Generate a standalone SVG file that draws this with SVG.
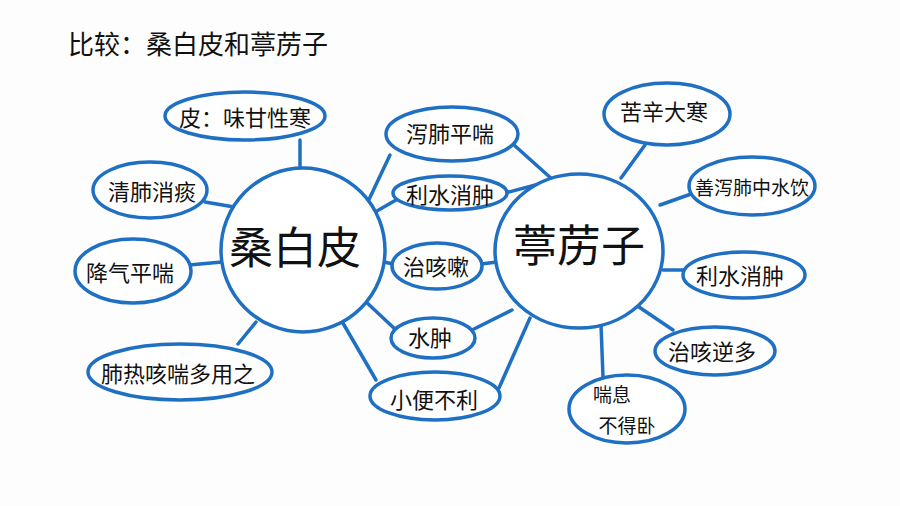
<svg xmlns="http://www.w3.org/2000/svg" width="900" height="506" viewBox="0 0 900 506">
<style>
.n{fill:#fff;stroke:#1f6fc2;stroke-width:3.5}
.c{fill:none;stroke:#1f6fc2;stroke-width:3.5;stroke-linecap:round}
text{font-family:"Noto Sans CJK SC","Noto Sans CJK JP",sans-serif;fill:#111;text-anchor:middle;dominant-baseline:central}
.s{font-size:22px}
.x{font-size:19px}
.b{font-size:44px}
.t{font-size:26px;text-anchor:start}
</style>
<rect width="900" height="506" fill="#fdfdfd"/>
<text class="t" x="68" y="42">比较：桑白皮和葶苈子</text>
<g id="connectors">
<line class="c" x1="300" y1="140" x2="300" y2="180"/>
<line class="c" x1="205" y1="202" x2="240" y2="208"/>
<line class="c" x1="189" y1="265" x2="222" y2="262"/>
<line class="c" x1="238" y1="344" x2="256" y2="322"/>
<line class="c" x1="390" y1="155" x2="364" y2="210"/>
<line class="c" x1="514" y1="145" x2="553" y2="180"/>
<line class="c" x1="396" y1="200" x2="370" y2="215"/>
<line class="c" x1="505" y1="193" x2="543" y2="183"/>
<line class="c" x1="393" y1="264" x2="384" y2="262"/>
<line class="c" x1="481" y1="264" x2="497" y2="262"/>
<line class="c" x1="396" y1="330" x2="364" y2="300"/>
<line class="c" x1="472" y1="330" x2="512" y2="310"/>
<line class="c" x1="376" y1="380" x2="340" y2="318"/>
<line class="c" x1="499" y1="388" x2="530" y2="318"/>
<line class="c" x1="645" y1="145" x2="621" y2="178"/>
<line class="c" x1="691" y1="194" x2="660" y2="205"/>
<line class="c" x1="684" y1="270" x2="663" y2="270"/>
<line class="c" x1="636" y1="305" x2="673" y2="330"/>
<line class="c" x1="601" y1="325" x2="603" y2="377"/>
</g>
<g id="sangbaipi"><ellipse class="n" cx="303" cy="250" rx="82" ry="82"/><text class="b" x="295" y="245">桑白皮</text></g>
<g id="tinglizi"><ellipse class="n" cx="579" cy="251" rx="84" ry="77"/><text class="b" x="579" y="243">葶苈子</text></g>
<g id="n1"><ellipse class="n" cx="245" cy="116" rx="80" ry="24"/><text class="s" x="245" y="116">皮：味甘性寒</text></g>
<g id="n2"><ellipse class="n" cx="150" cy="190" rx="57" ry="28"/><text class="s" x="152" y="190">清肺消痰</text></g>
<g id="n3"><ellipse class="n" cx="133" cy="271" rx="58" ry="32"/><text class="s" x="130" y="271">降气平喘</text></g>
<g id="n4"><ellipse class="n" cx="180" cy="372" rx="92" ry="28"/><text class="s" x="178" y="372">肺热咳喘多用之</text></g>
<g id="m1"><ellipse class="n" cx="452" cy="134" rx="66" ry="27"/><text class="s" x="450" y="132">泻肺平喘</text></g>
<g id="m2"><ellipse class="n" cx="450" cy="193" rx="57" ry="17"/><text class="s" x="450" y="193">利水消肿</text></g>
<g id="m3"><ellipse class="n" cx="437" cy="266" rx="45" ry="23"/><text class="s" x="436" y="265">治咳嗽</text></g>
<g id="m4"><ellipse class="n" cx="433" cy="338" rx="42" ry="20"/><text class="s" x="430" y="336">水肿</text></g>
<g id="m5"><ellipse class="n" cx="435" cy="396" rx="65" ry="24"/><text class="s" x="434" y="398">小便不利</text></g>
<g id="r1"><ellipse class="n" cx="667" cy="114" rx="63" ry="31"/><text class="s" x="664" y="110">苦辛大寒</text></g>
<g id="r2"><ellipse class="n" cx="752" cy="186" rx="63" ry="29"/><text class="x" x="752" y="186">善泻肺中水饮</text></g>
<g id="r3"><ellipse class="n" cx="744" cy="275" rx="61" ry="23"/><text class="s" x="740" y="274">利水消肿</text></g>
<g id="r4"><ellipse class="n" cx="715" cy="351" rx="60" ry="24"/><text class="s" x="712" y="350">治咳逆多</text></g>
<g id="r5"><ellipse class="n" cx="627" cy="409" rx="58" ry="34"/><text class="x" x="612" y="393">喘息</text><text class="x" x="627" y="424">不得卧</text></g>
</svg>
